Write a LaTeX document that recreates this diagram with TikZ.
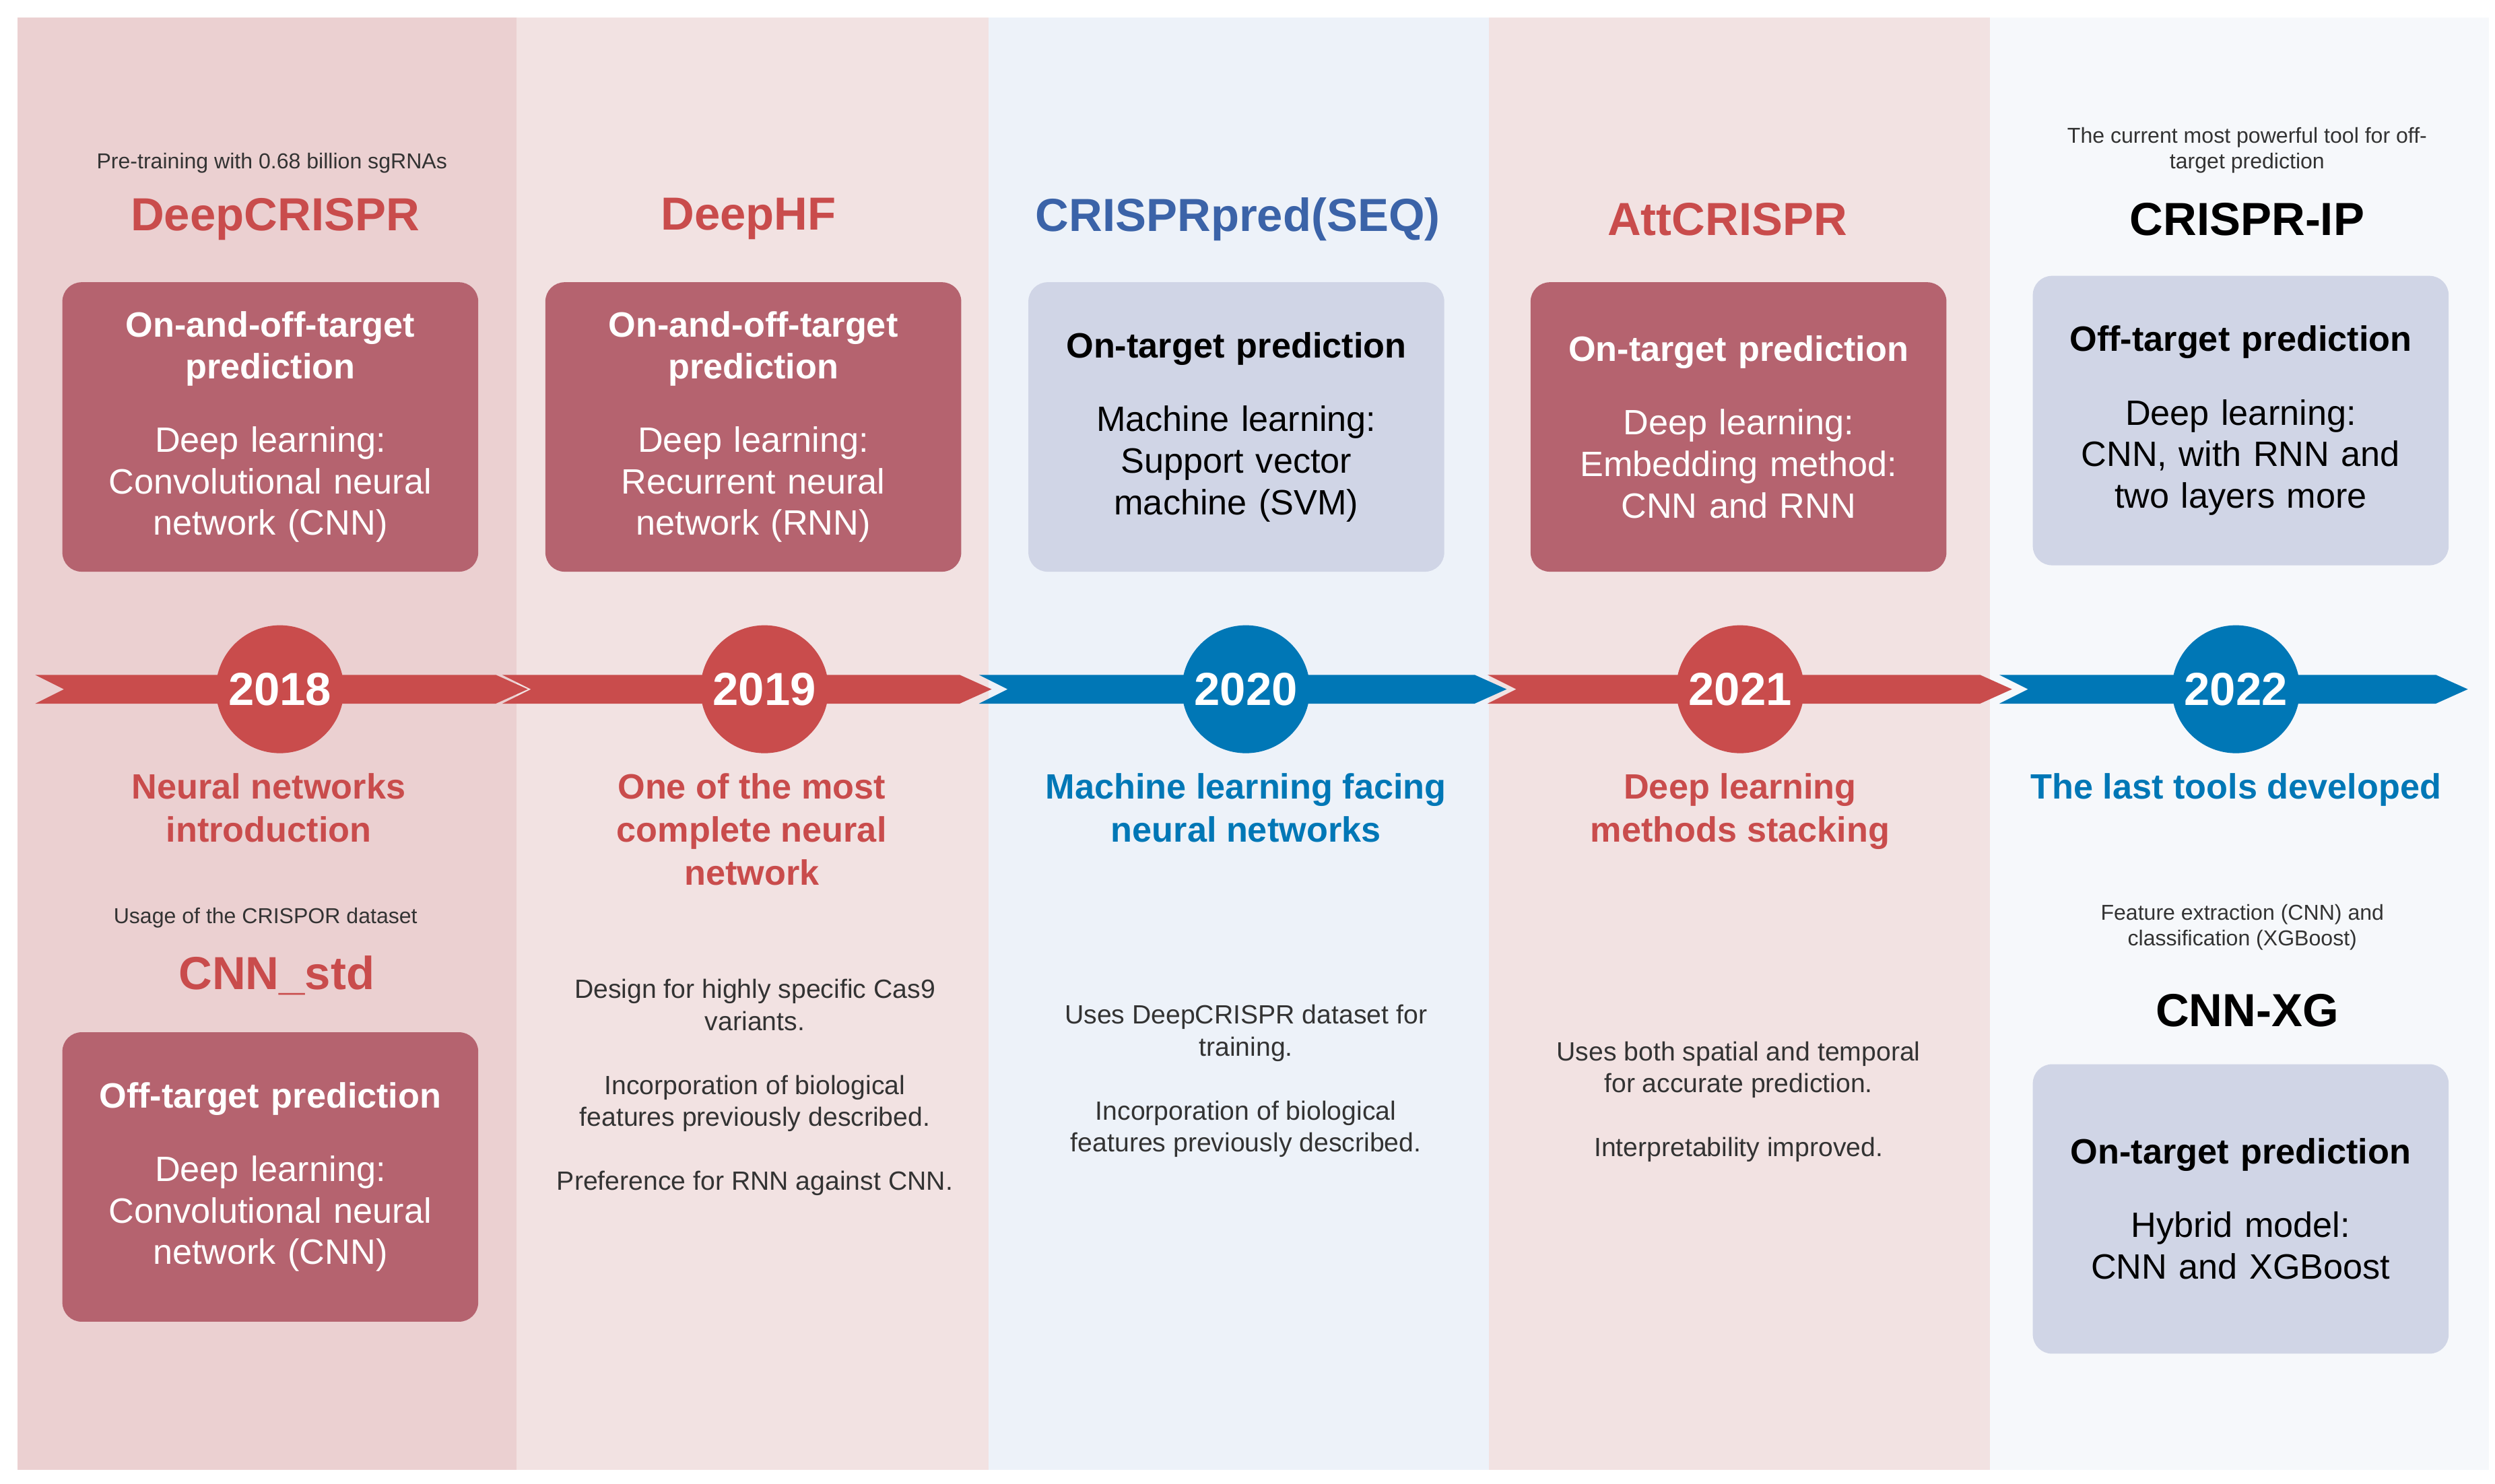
\documentclass[tikz,border=0pt]{standalone}
\usepackage{fontspec}
\setmainfont{Liberation Sans}
\begin{document}
\definecolor{cola}{HTML}{EBD0D1}
\definecolor{colb}{HTML}{F2E2E2}
\definecolor{colc}{HTML}{EDF2F9}
\definecolor{cole}{HTML}{F6F8FB}
\definecolor{red1}{HTML}{C94C4C}
\definecolor{blue1}{HTML}{0077B6}
\definecolor{blue2}{HTML}{3B63A8}
\definecolor{mauve}{HTML}{B5636F}
\definecolor{lilac}{HTML}{D0D5E6}
\definecolor{txt}{HTML}{333333}
\begin{tikzpicture}[x=1pt,y=-1pt,
  box/.style={rounded corners=12pt, minimum width=260pt, text width=240pt, align=center, inner sep=0pt, font=\fontsize{22}{26}\selectfont},
  mbox/.style={box, fill=mauve, text=white},
  lbox/.style={box, fill=lilac, text=black},
  year/.style={circle, minimum size=80pt, inner sep=0pt, text=white, font=\bfseries\fontsize{29}{32}\selectfont},
  title/.style={font=\bfseries\fontsize{29}{32}\selectfont},
  sub/.style={align=center, font=\bfseries\fontsize{22}{27}\selectfont},
  small/.style={align=center, text=txt, font=\fontsize{13.5}{16}\selectfont},
  note/.style={align=center, text=txt, font=\fontsize{16.5}{20}\selectfont}]
\useasboundingbox (0,0) rectangle (1560,928);
\fill[white] (0,0) rectangle (1560,928);
% columns
\fill[cola] (11,11) rectangle (323,919);
\fill[colb] (323,11) rectangle (618,919);
\fill[colc] (618,11) rectangle (931,919);
\fill[colb] (931,11) rectangle (1244,919);
\fill[cole] (1244,11) rectangle (1556,919);
% arrow segments
\foreach \a/\b/\c in {22/330/red1, 314/620/red1, 612/942/blue1, 930/1258/red1, 1250/1543/blue1}{
  \fill[\c] (\a,422) -- (\b-20,422) -- (\b,431) -- (\b-20,440) -- (\a,440) -- (\a+18,431) -- cycle;
}
% year circles
\node[year, fill=red1] (y18) at (175,431) {2018};
\node[year, fill=red1] (y19) at (478,431) {2019};
\node[year, fill=blue1] (y20) at (779,431) {2020};
\node[year, fill=red1] (y21) at (1088,431) {2021};
\node[year, fill=blue1] (y22) at (1398,431) {2022};
% top
\node[small] (c1) at (170,102) {Pre-training with 0.68 billion sgRNAs};
\node[title, text=red1] (t1) at (172,137) {DeepCRISPR};
\node[title, text=red1] (t2) at (468,137) {DeepHF};
\node[title, text=blue2] (t3) at (774,137) {CRISPRpred(SEQ)};
\node[title, text=red1] (t4) at (1080,137) {AttCRISPR};
\node[small] (c5) at (1405,94) {The current most powerful tool for off-\\target prediction};
\node[title, text=black] (t5) at (1405,137) {CRISPR-IP};
\node[mbox, minimum height=181pt] (b1) at (169,267) {\textbf{On-and-off-target\\prediction}\\[20pt]Deep learning:\\Convolutional neural\\network (CNN)};
\node[mbox, minimum height=181pt] (b2) at (471,267) {\textbf{On-and-off-target\\prediction}\\[20pt]Deep learning:\\Recurrent neural\\network (RNN)};
\node[lbox, minimum height=181pt] (b3) at (773,267) {\textbf{On-target prediction}\\[20pt]Machine learning:\\Support vector\\machine (SVM)};
\node[mbox, minimum height=181pt] (b4) at (1087,267) {\textbf{On-target prediction}\\[20pt]Deep learning:\\Embedding method:\\CNN and RNN};
\node[lbox, minimum height=181pt] (b5) at (1401,263) {\textbf{Off-target prediction}\\[20pt]Deep learning:\\CNN, with RNN and\\two layers more};
% bottom headings
\node[sub, text=red1, anchor=north] (s1) at (168,480) {Neural networks\\introduction};
\node[sub, text=red1, anchor=north] (s2) at (470,480) {One of the most\\complete neural\\network};
\node[sub, text=blue1, anchor=north] (s3) at (779,480) {Machine learning facing\\neural networks};
\node[sub, text=red1, anchor=north] (s4) at (1088,480) {Deep learning\\methods stacking};
\node[sub, text=blue1, anchor=north] (s5) at (1398,480) {The last tools developed};
% column 1 bottom
\node[small] (c6) at (166,574) {Usage of the CRISPOR dataset};
\node[title, text=red1] (t6) at (173,610) {CNN\_std};
\node[mbox, minimum height=181pt] (b6) at (169,736) {\textbf{Off-target prediction}\\[20pt]Deep learning:\\Convolutional neural\\network (CNN)};
% notes
\node[note] (n2) at (472,680) {Design for highly specific Cas9\\variants.\\[20pt]Incorporation of biological\\features previously described.\\[20pt]Preference for RNN against CNN.};
\node[note] (n3) at (779,676) {Uses DeepCRISPR dataset for\\training.\\[20pt]Incorporation of biological\\features previously described.};
\node[note] (n4) at (1087,689) {Uses both spatial and temporal\\for accurate prediction.\\[20pt]Interpretability improved.};
% column 5 bottom
\node[small] (c7) at (1402,580) {Feature extraction (CNN) and\\classification (XGBoost)};
\node[title, text=black] (t7) at (1405,632) {CNN-XG};
\node[lbox, minimum height=181pt] (b7) at (1401,756) {\textbf{On-target prediction}\\[20pt]Hybrid model:\\CNN and XGBoost};
\end{tikzpicture}
\end{document}
